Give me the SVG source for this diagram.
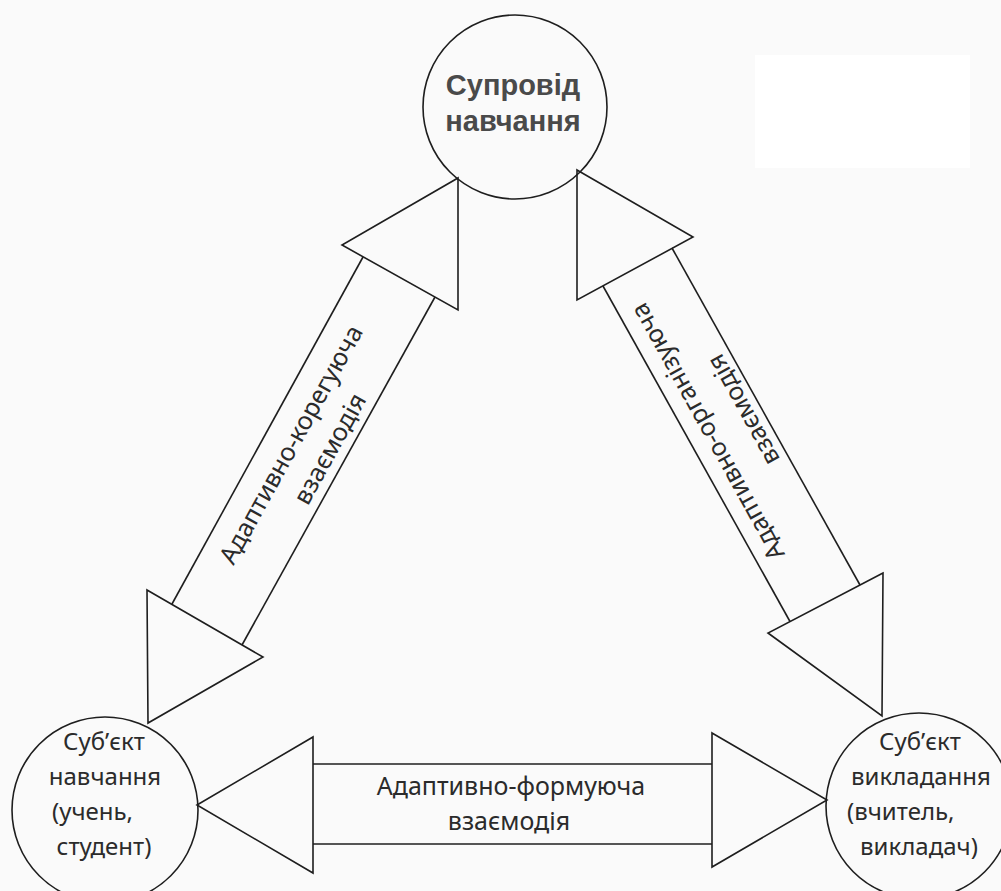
<svg xmlns="http://www.w3.org/2000/svg" width="1001" height="891" viewBox="0 0 1001 891">
  <style>
    .shape { fill: none; stroke: #1e1e1e; stroke-width: 1.6; stroke-linejoin: miter; }
    .title { font-family: "Liberation Sans", Arial, sans-serif; font-weight: bold; font-size: 29px; fill: #4a4a4a; text-anchor: middle; }
    .node { font-family: "Noto Sans", "Open Sans", sans-serif; font-size: 24px; fill: #2b2b2b; }
    .label { font-family: "Noto Sans", "Open Sans", sans-serif; font-size: 25px; fill: #2b2b2b; text-anchor: middle; }
    .mid { text-anchor: middle; }
  </style>

  <!-- paper -->
  <rect x="0" y="0" width="1001" height="891" fill="#fafafa"/>
  <rect x="755" y="55" width="215" height="113" fill="#ffffff"/>

  <!-- connectors: double-headed block arrows -->
  <g id="connectors">
    <g id="arrow-left">
      <polygon class="shape" points="458,178 458,310 342,245"/>
      <polygon class="shape" points="147,590 263,657 148,723"/>
      <line class="shape" x1="172" y1="604" x2="363" y2="257"/>
      <line class="shape" x1="242" y1="645" x2="435" y2="297"/>
      <g transform="translate(303,451) rotate(-61)">
        <text class="label" x="0" y="-5">Адаптивно-корегуюча</text>
        <text class="label" x="15" y="31">взаємодія</text>
      </g>
    </g>
    <g id="arrow-right">
      <polygon class="shape" points="577,170 693,237 577,300"/>
      <polygon class="shape" points="883,573 768,633 882,716"/>
      <line class="shape" x1="603" y1="286" x2="790" y2="621.5"/>
      <line class="shape" x1="672" y1="248" x2="860" y2="585"/>
      <g transform="translate(731,436) rotate(-119)">
        <text class="label" x="15" y="-10">Адаптивно-організуюча</text>
        <text class="label" x="17" y="32">взаємодія</text>
      </g>
    </g>
    <g id="arrow-bottom">
      <polygon class="shape" points="197,805 313,737 313,873"/>
      <polygon class="shape" points="712,733 827,800 712,867"/>
      <line class="shape" x1="313" y1="764" x2="712" y2="764"/>
      <line class="shape" x1="313" y1="844" x2="712" y2="844"/>
      <text class="label" x="511" y="795">Адаптивно-формуюча</text>
      <text class="label" x="509" y="830">взаємодія</text>
    </g>
  </g>

  <!-- nodes -->
  <g id="node-support">
    <circle class="shape" cx="515" cy="107" r="92"/>
    <text class="title" x="513" y="95">Супровід</text>
    <text class="title" x="513" y="131">навчання</text>
  </g>

  <g id="node-learner">
    <circle class="shape" cx="105" cy="810" r="93"/>
    <text class="node mid" x="104" y="750">Суб’єкт</text>
    <text class="node mid" x="105" y="785">навчання</text>
    <text class="node" x="52" y="820">(учень,</text>
    <text class="node mid" x="104" y="855">студент)</text>
  </g>

  <g id="node-teacher">
    <circle class="shape" cx="919" cy="806" r="93"/>
    <text class="node mid" x="920" y="750">Суб’єкт</text>
    <text class="node mid" x="921" y="785">викладання</text>
    <text class="node" x="847" y="820">(вчитель,</text>
    <text class="node mid" x="919" y="855">викладач)</text>
  </g>
</svg>
